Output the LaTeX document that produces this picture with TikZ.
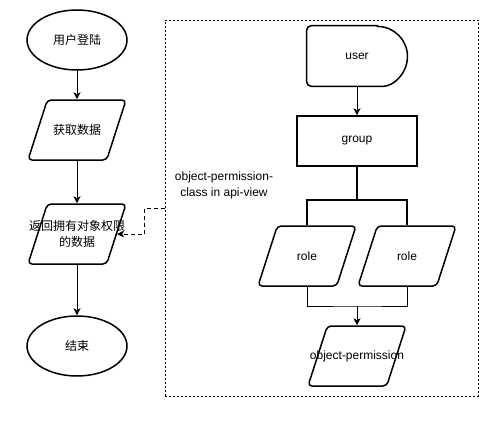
\documentclass[tikz,border=0pt]{standalone}
\usepackage{fontspec}
\setmainfont{Liberation Sans}
\newfontfamily\cjk{Noto Sans CJK SC}
\usetikzlibrary{shapes.geometric,arrows.meta}
\tikzset{
  term/.style={ellipse,draw,line width=1.5pt,minimum width=100pt,minimum height=60pt},
  para/.style={trapezium,trapezium left angle=72,trapezium right angle=108,trapezium stretches=true,
    draw,line width=1.5pt,rounded corners=4pt,minimum width=98pt,minimum height=60pt,inner sep=2pt},
  box/.style={rectangle,draw,line width=1.5pt,minimum width=120pt,minimum height=50pt},
  frame/.style={rectangle,draw,dash pattern=on 2pt off 2pt,line width=0.8pt},
  zh/.style={font=\fontsize{12}{16}\cjk\selectfont},
}

\begin{document}
\begin{tikzpicture}[x=1pt,y=-1pt,line width=0.9pt,font=\fontsize{12}{16}\selectfont,
    >={Stealth[length=7pt,width=7pt,inset=2pt]}]
    \useasboundingbox (0,0) rectangle (500,428);
    % left column
    \node[term,zh] (login) at (77,40) {用户登陆};
    \node[para] (fetch) at (77,130) {};
    \node[zh] (fetchtxt) at (fetch) {获取数据};
    \node[para] (result) at (77,234) {};
    \node[zh,align=center] (resulttxt) at (result) {返回拥有对象权限\\的数据};
    \node[term,zh] (finish) at (77,346) {结束};
    \draw[->](login)--(fetch);
    \draw[->](fetch)--(result);
    \draw[->](result)--(finish);
    % api-view
    \node[frame,minimum width=313pt,minimum height=376pt] (apiview) at (321.5,208) {};
    \node[align=center] (viewnote) at (224,185) {object-permission-\\class in api-view};
    \draw[dash pattern=on 4pt off 3pt,->](apiview.west)--++(-20,0)|-(result.east);
    \node[minimum width=100pt,minimum height=60pt] (user) at (357,56) {user};
    \draw[line width=1.5pt,rounded corners=5pt]([xshift=-30pt]user.north east)--(user.north west)--(user.south west)--([xshift=-30pt]user.south east)[sharp corners] arc[start angle=-90,end angle=90,radius=30pt]--cycle;
    \node[box] (group) at (357,141) {group};
    \node[para] (roleA) at (307,256) {};
    \node (roleAtxt) at (roleA) {role};
    \node[para] (roleB) at (407,256) {};
    \node (roleBtxt) at (roleB) {role};
    \node[para] (objperm) at (357,356) {};
    \node (objpermtxt) at (objperm) {object-permission};
    \draw[->](user)--(group);
    \draw[line width=1.5pt](group.south)--++(0,33)coordinate(split)-|(roleA.north);
    \draw[line width=1.5pt](split)-|(roleB.north);
    \coordinate (merge) at (357,306);
    \draw(roleA.south)|-(merge)-|(roleB.south);
    \draw[->](merge)--(objperm);
\end{tikzpicture}
\end{document}
